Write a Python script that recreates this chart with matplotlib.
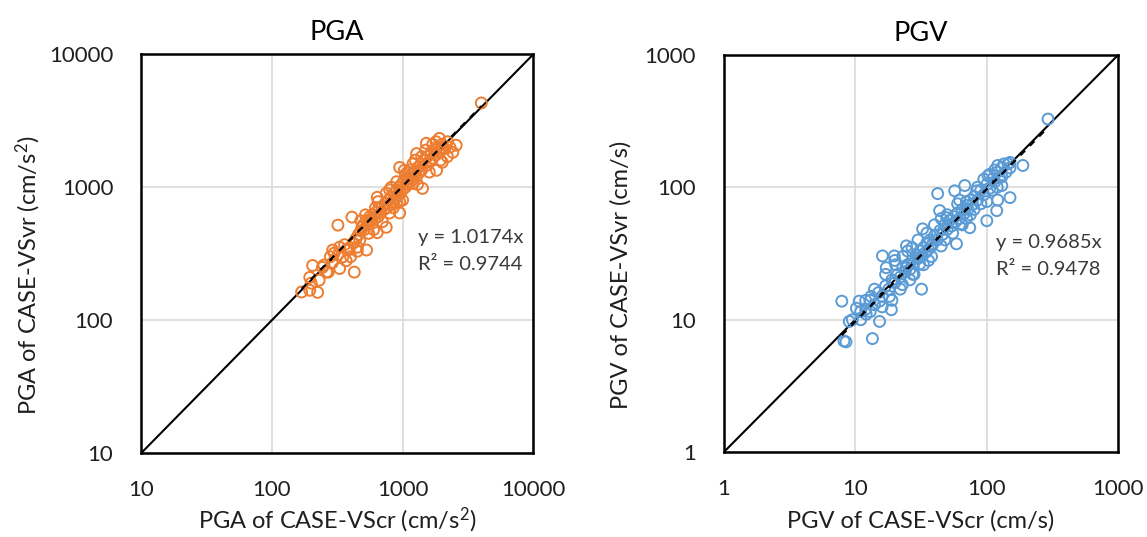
import matplotlib
matplotlib.use("Agg")
import matplotlib.pyplot as plt
import numpy as np

plt.rcParams['font.family'] = ['Lato', 'DejaVu Sans']
plt.rcParams['mathtext.fontset'] = 'custom'
plt.rcParams['mathtext.rm'] = 'Lato'
plt.rcParams['mathtext.it'] = 'Lato:italic'
plt.rcParams['mathtext.bf'] = 'Lato:bold'

# PGA (cm/s2): CASE-VScr (x) vs CASE-VSvr (y)
pga_x = [4000, 169, 195, 224, 205, 244, 195, 262, 330, 427, 292, 330, 378, 452, 530, 470,
         320, 410, 490, 560, 640, 750, 640, 795, 950, 900, 795, 950, 1030, 1190, 1420, 1280,
         1520, 1910, 2010, 2570, 2420, 2010, 1820, 1620,
         280, 300, 320, 350, 360, 390, 420, 440, 460, 480, 500, 510, 530, 550, 560, 580, 600,
         610, 630, 650, 660, 680, 700, 720, 740, 760, 780, 800, 820, 840, 860, 880, 900, 920,
         940, 960, 980, 1000, 1020, 1050, 1080, 1100, 1120, 1150, 1180, 1200, 1250, 1280, 1300,
         1350, 1380, 1400, 1450, 1500, 1550, 1600, 1650, 1700, 1750, 1800, 1850, 1900, 2000,
         2100, 2200, 2300, 1200, 1100, 900, 850, 700, 600, 550, 450, 400, 370, 250, 230, 200,
         270, 290, 1000, 950, 1300, 1600, 1700, 1800, 1500, 1400, 1250, 750, 650, 520, 480,
         620, 1150, 820, 1050, 2200, 1950]
pga_y = [4300, 163, 168, 162, 258, 250, 210, 230, 245, 230, 337, 354, 345, 354, 337, 400,
         519, 596, 500, 565, 456, 500, 840, 640, 640, 770, 955, 1410, 1340, 1070, 980, 1790,
         2140, 2330, 1990, 2070, 1830, 1540, 1340, 1590,
         300, 320, 310, 300, 370, 340, 380, 410, 440, 470, 520, 480, 560, 530, 600, 560, 620,
         580, 650, 600, 700, 640, 720, 680, 760, 700, 800, 740, 850, 780, 900, 820, 950, 870,
         1000, 900, 1050, 960, 1100, 1000, 1150, 1050, 1200, 1100, 1250, 1150, 1300, 1200, 1400,
         1300, 1500, 1350, 1600, 1450, 1700, 1550, 1800, 1650, 1900, 1750, 2000, 1850, 2100,
         1950, 2200, 2000, 1500, 1300, 1100, 700, 550, 480, 450, 330, 300, 280, 260, 200, 190,
         230, 270, 800, 780, 1050, 1300, 2100, 2200, 1900, 1700, 1600, 900, 780, 620, 560,
         700, 1350, 1000, 1250, 1700, 1600]

# PGV (cm/s)
pgv_x = [292, 8.2, 8.5, 13.5, 7.9, 9.0, 10.2, 10.7, 12.1, 13.2, 15.3, 18.8, 15.3, 18.2, 16.1,
         19.8, 17.2, 20.3, 24.5, 22.8, 31.9, 27.3, 30.8, 24.5, 32.5, 38.8, 43.8, 42.3, 49.4, 58.8,
         57, 68, 64.5, 74.2, 70, 83.7, 100, 119, 102, 121, 150, 188, 150, 130, 121, 100,
         9.5, 11, 12, 13, 14, 15, 16, 17, 18, 19, 20, 21, 22, 23, 24, 25, 26, 27, 28, 29, 30,
         31, 32, 33, 34, 35, 36, 37, 38, 40, 42, 44, 46, 48, 50, 52, 54, 56, 58, 60, 62, 65,
         68, 70, 72, 75, 78, 80, 85, 90, 95, 100, 105, 110, 115, 120, 125, 130, 140, 145, 150,
         20, 22, 25, 28, 30, 33, 35, 38, 40, 45, 50, 55, 60, 65, 75, 85, 90, 110, 120, 130,
         17, 19, 23, 26, 14, 16, 27, 36, 45, 48, 62, 70, 80, 95, 105, 115, 135, 12, 11, 13]
pgv_y = [327, 6.9, 6.8, 7.2, 13.8, 9.7, 12.2, 13.8, 11.0, 15.0, 9.7, 11.9, 13.8, 15.0, 30.3,
         30.3, 24.7, 26, 24.7, 18.4, 17.0, 22, 26.2, 36.1, 48.5, 37.4, 66.6, 89.5, 58.9, 37.4,
         94, 103, 52.9, 49.5, 78, 94, 55.9, 66.6, 122, 146, 154, 146, 83.5, 103, 80, 78,
         10, 11.5, 12, 14, 13, 16, 15, 18, 17, 20, 19, 22, 21, 25, 23, 26, 24, 28, 27, 31, 29,
         33, 30, 35, 32, 38, 34, 40, 36, 43, 40, 47, 44, 52, 48, 56, 51, 60, 55, 64, 58, 68,
         64, 73, 68, 80, 74, 85, 80, 95, 88, 105, 98, 115, 110, 130, 118, 140, 130, 150, 140,
         28, 17, 33, 22, 40, 26, 45, 30, 52, 36, 62, 45, 75, 52, 62, 100, 75, 95, 100, 120,
         22, 14, 30, 20, 17, 12.5, 35, 28, 58, 40, 80, 58, 68, 115, 125, 135, 150, 14, 10, 11.5]

ticks_pga = [10, 100, 1000, 10000]
ticks_pgv = [1, 10, 100, 1000]

fig = plt.figure(figsize=(11.47, 5.37), dpi=100)
ax1 = fig.add_axes([0.123, 0.156, 0.342, 0.743])
ax2 = fig.add_axes([0.631, 0.158, 0.344, 0.740])


def draw(ax, x, y, slope, r2, color, ticks, title, xlabel, ylabel, tx, ty, xpad, ypad):
    x = np.array(x, dtype=float)
    y = np.array(y, dtype=float)
    ax.set_xscale('log')
    ax.set_yscale('log')
    ax.set_xlim(ticks[0], ticks[-1])
    ax.set_ylim(ticks[0], ticks[-1])
    ax.grid(True, which='major', color='#d9d9d9', linewidth=1.2)
    ax.set_axisbelow(True)
    ax.plot(ticks, ticks, color='black', linewidth=1.5, zorder=2)
    ax.scatter(x, y, s=62, facecolors='none', edgecolors=color, linewidths=1.4, zorder=3)
    xs = np.array([x.min(), x.max()])
    ax.plot(xs, slope * xs, color='black', linestyle=(0, (3, 3)), linewidth=1.6, zorder=4)
    ax.set_xticks(ticks)
    ax.set_yticks(ticks)
    ax.set_xticklabels([str(t) for t in ticks])
    ax.set_yticklabels([str(t) for t in ticks])
    ax.minorticks_off()
    ax.tick_params(length=0, labelsize=16, labelcolor='#1f1f1f')
    ax.tick_params(axis='x', pad=19)
    ax.tick_params(axis='y', pad=20)
    for s in ax.spines.values():
        s.set_linewidth(1.8)
        s.set_color('black')
    ax.set_title(title, fontsize=19.5, pad=10)
    ax.set_xlabel(xlabel, fontsize=17, labelpad=xpad, color='#1f1f1f')
    ax.set_ylabel(ylabel, fontsize=17, labelpad=ypad, color='#1f1f1f')
    ax.yaxis.label.set_y(0.446)
    ax.text(tx, ty, f"y = {slope}x", transform=ax.transAxes, fontsize=14.5,
            color='#3a3a3a', va='center')
    ax.text(tx, ty - 0.067, f"R² = {r2}", transform=ax.transAxes, fontsize=14.5,
            color='#3a3a3a', va='center')


draw(ax1, pga_x, pga_y, 1.0174, "0.9744", '#ed7d31', ticks_pga, "PGA",
     r"PGA of CASE-VScr (cm/s$^{\mathregular{2}}$)",
     r"PGA of CASE-VSvr (cm/s$^{\mathregular{2}}$)", 0.705, 0.54, 4, 4)
draw(ax2, pgv_x, pgv_y, 0.9685, "0.9478", '#5b9bd5', ticks_pgv, "PGV",
     "PGV of CASE-VScr (cm/s)", "PGV of CASE-VSvr (cm/s)", 0.69, 0.527, 8, 9)

fig.savefig("out.png", dpi=100)
